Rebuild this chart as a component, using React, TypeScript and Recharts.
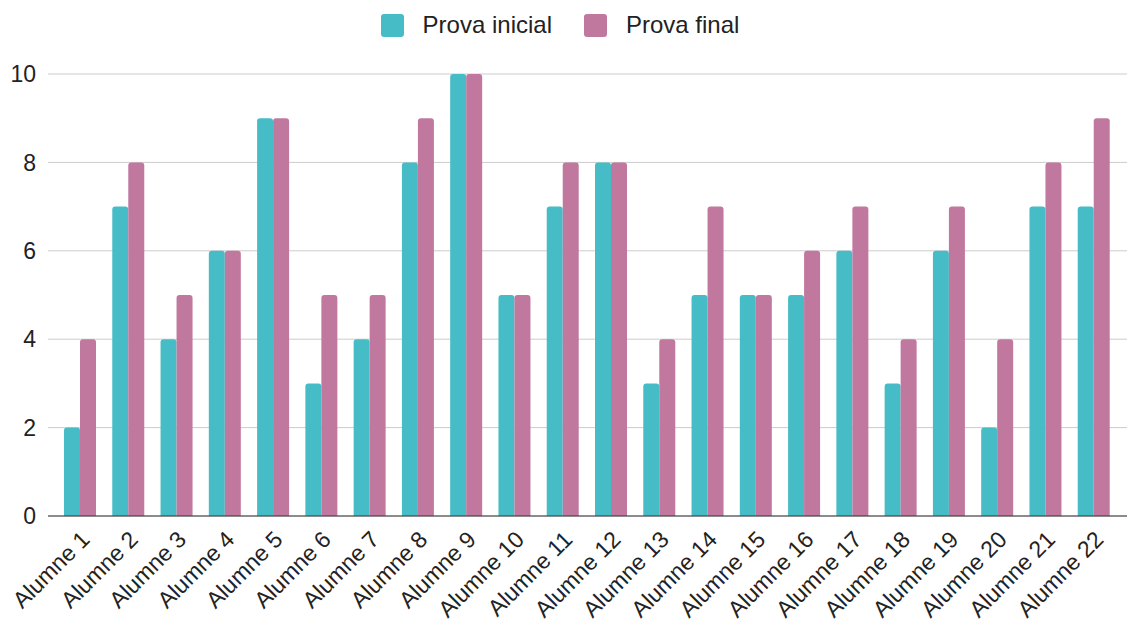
import { BarChart, Bar, XAxis, YAxis, CartesianGrid } from "recharts";

const students = [
  "Alumne 1", "Alumne 2", "Alumne 3", "Alumne 4", "Alumne 5", "Alumne 6",
  "Alumne 7", "Alumne 8", "Alumne 9", "Alumne 10", "Alumne 11", "Alumne 12",
  "Alumne 13", "Alumne 14", "Alumne 15", "Alumne 16", "Alumne 17", "Alumne 18",
  "Alumne 19", "Alumne 20", "Alumne 21", "Alumne 22",
];
const provaInicial = [2, 7, 4, 6, 9, 3, 4, 8, 10, 5, 7, 8, 3, 5, 5, 5, 6, 3, 6, 2, 7, 7];
const provaFinal = [4, 8, 5, 6, 9, 5, 5, 9, 10, 5, 8, 8, 4, 7, 5, 6, 7, 4, 7, 4, 8, 9];
const yTicks = [0, 2, 4, 6, 8, 10];

const TEAL = "#46bdc6";
const PINK = "#c1789f";
const FONT = "'Liberation Sans', Arial, sans-serif";

const data = students.map((name, i) => ({
  name,
  inicial: provaInicial[i],
  final: provaFinal[i],
}));

const XTick = ({ x, y, payload }: any) => (
  <g transform={`translate(${x - 1},${y + 5})`}>
    <text
      transform="rotate(-45)"
      textAnchor="end"
      dominantBaseline="hanging"
      fontSize={23}
      fontFamily={FONT}
      fill="#222"
    >
      {payload.value}
    </text>
  </g>
);

const legendItems = [
  { label: "Prova inicial", color: TEAL },
  { label: "Prova final", color: PINK },
];

export default function App() {
  return (
    <div style={{ position: "absolute", left: 0, top: 0, width: 1132, height: 623, background: "#fff" }}>
      <div
        style={{
          position: "absolute",
          top: 11,
          left: 0,
          width: 1132,
          height: 28,
          display: "flex",
          justifyContent: "center",
          alignItems: "center",
          gap: 32,
          paddingRight: 12,
          boxSizing: "border-box",
          fontFamily: FONT,
        }}
      >
        {legendItems.map((it) => (
          <div key={it.label} style={{ display: "flex", alignItems: "center", gap: 19 }}>
            <div style={{ width: 23, height: 23, borderRadius: 3, backgroundColor: it.color }} />
            <span style={{ fontSize: 24, color: "#222", lineHeight: "28px" }}>{it.label}</span>
          </div>
        ))}
      </div>
      <BarChart
        width={1132}
        height={623}
        data={data}
        margin={{ top: 74, right: 5, bottom: 0, left: 0 }}
        barGap={0}
        barSize={16}
      >
        <CartesianGrid vertical={false} stroke="#cccccc" />
        <XAxis
          dataKey="name"
          interval={0}
          height={107}
          tick={<XTick />}
          tickLine={false}
          axisLine={{ stroke: "#333" }}
          padding={{ left: 8, right: 9 }}
        />
        <YAxis
          width={48}
          domain={[0, 10]}
          ticks={yTicks}
          tickLine={false}
          axisLine={false}
          tickSize={0}
          tickMargin={12}
          tick={{ fontSize: 23, fill: "#222", fontFamily: FONT }}
        />
        <Bar dataKey="inicial" name="Prova inicial" fill={TEAL} radius={[3, 3, 0, 0]} isAnimationActive={false} />
        <Bar dataKey="final" name="Prova final" fill={PINK} radius={[3, 3, 0, 0]} isAnimationActive={false} />
      </BarChart>
    </div>
  );
}
